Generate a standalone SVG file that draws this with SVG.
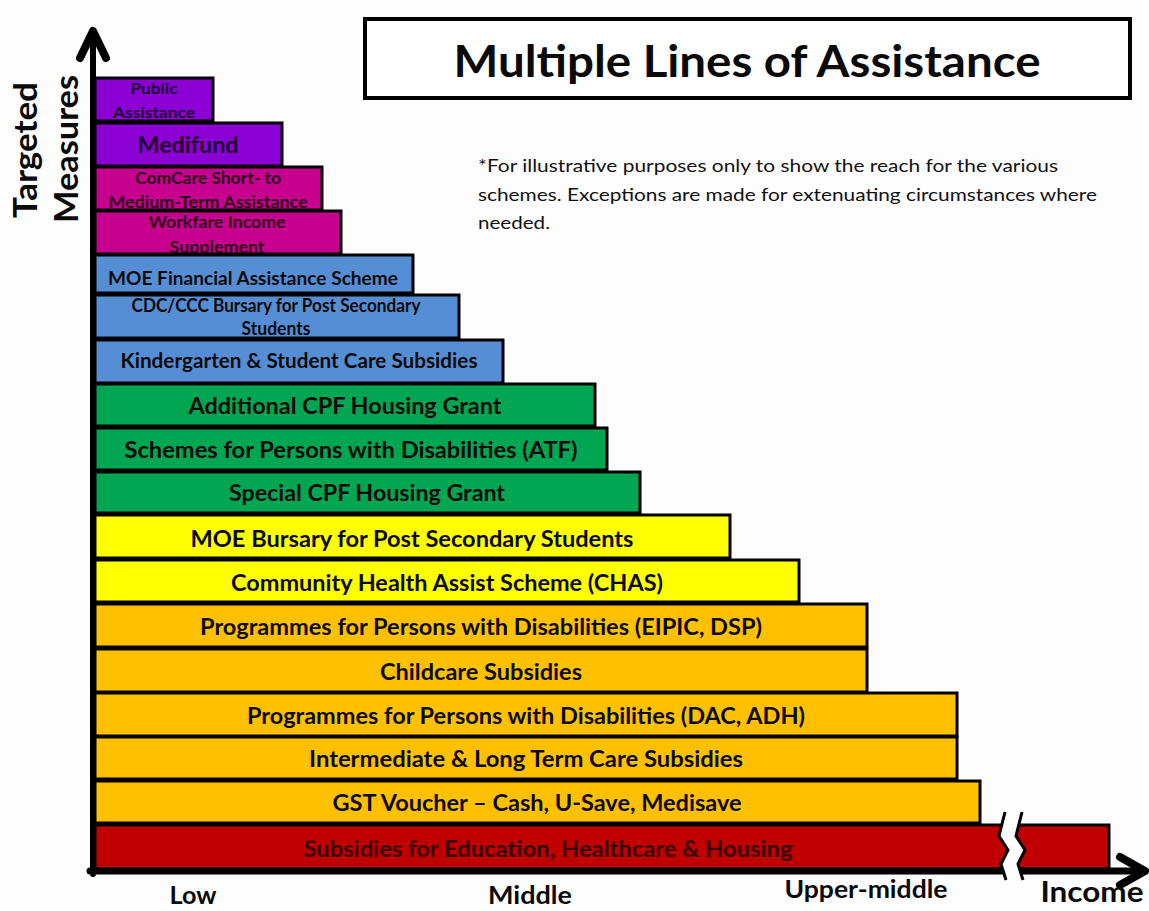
<svg xmlns="http://www.w3.org/2000/svg" width="1149" height="911" viewBox="0 0 1149 911">
<style>
.bar{stroke:#000;stroke-width:3}
.pu{fill:#8B00D2}.mg{fill:#C8008E}.bl{fill:#558ED5}.gr{fill:#00A651}.ye{fill:#FFFF00}.or{fill:#FFC000}.rd{fill:#C00000}
.lb{font-family:Lato,"Open Sans","Liberation Sans",sans-serif;font-weight:700;text-anchor:middle;fill:#0a0a0a}
.ax{stroke:#000;fill:none;stroke-linecap:round;stroke-linejoin:round}
.note{font-family:Lato,"Open Sans","Liberation Sans",sans-serif;font-size:18px;fill:#111}
</style>
<rect width="1149" height="911" fill="#fdfdfd"/>

<g id="title">
<rect x="365" y="19" width="765" height="79" fill="#fff" stroke="#000" stroke-width="4"/>
<text class="lb" x="747" y="77" font-size="44" textLength="587" lengthAdjust="spacingAndGlyphs">Multiple Lines of Assistance</text>
</g>

<g id="note">
<text class="note" x="478" y="172" textLength="580" lengthAdjust="spacingAndGlyphs">*For illustrative purposes only to show the reach for the various</text>
<text class="note" x="478" y="201" textLength="619" lengthAdjust="spacingAndGlyphs">schemes. Exceptions are made for extenuating circumstances where</text>
<text class="note" x="478" y="229" textLength="72" lengthAdjust="spacingAndGlyphs">needed.</text>
</g>

<g id="bar-public-assistance">
<rect class="bar pu" x="95" y="78" width="118" height="43"/>
<text class="lb" x="154" y="94" font-size="16" style="fill:#1e0030" textLength="47" lengthAdjust="spacingAndGlyphs">Public</text>
<text class="lb" x="154" y="118" font-size="16" style="fill:#1e0030" textLength="82" lengthAdjust="spacingAndGlyphs">Assistance</text>
</g>
<g id="bar-medifund">
<rect class="bar pu" x="95" y="123" width="187" height="43"/>
<text class="lb" x="188" y="153" font-size="23" style="fill:#1e0030" textLength="101" lengthAdjust="spacingAndGlyphs">Medifund</text>
</g>
<g id="bar-comcare">
<rect class="bar mg" x="95" y="167" width="227" height="43"/>
<text class="lb" x="208" y="184" font-size="17" style="fill:#2e0018" textLength="146" lengthAdjust="spacingAndGlyphs">ComCare Short- to</text>
<text class="lb" x="208" y="208" font-size="17" style="fill:#2e0018" textLength="199" lengthAdjust="spacingAndGlyphs">Medium-Term Assistance</text>
</g>
<g id="bar-workfare">
<rect class="bar mg" x="95" y="211" width="246" height="43"/>
<text class="lb" x="217" y="228" font-size="17" style="fill:#2e0018" textLength="137" lengthAdjust="spacingAndGlyphs">Workfare Income</text>
<text class="lb" x="217" y="253" font-size="17" style="fill:#2e0018" textLength="95" lengthAdjust="spacingAndGlyphs">Supplement</text>
</g>
<g id="bar-moe-fas">
<rect class="bar bl" x="95" y="255" width="318" height="38"/>
<text class="lb" x="253" y="285" font-size="19" textLength="290" lengthAdjust="spacingAndGlyphs">MOE Financial Assistance Scheme</text>
</g>
<g id="bar-cdc-ccc">
<rect class="bar bl" x="95" y="295" width="364" height="43"/>
<text class="lb" x="276" y="312" font-size="18" textLength="289" lengthAdjust="spacingAndGlyphs">CDC/CCC Bursary for Post Secondary</text>
<text class="lb" x="276" y="335" font-size="18" textLength="69" lengthAdjust="spacingAndGlyphs">Students</text>
</g>
<g id="bar-kindergarten">
<rect class="bar bl" x="95" y="340" width="408" height="43"/>
<text class="lb" x="299" y="368" font-size="21" textLength="357" lengthAdjust="spacingAndGlyphs">Kindergarten &amp; Student Care Subsidies</text>
</g>
<g id="bar-additional-cpf">
<rect class="bar gr" x="95" y="384" width="500" height="42"/>
<text class="lb" x="345" y="414" font-size="23" textLength="313" lengthAdjust="spacingAndGlyphs">Additional CPF Housing Grant</text>
</g>
<g id="bar-atf">
<rect class="bar gr" x="95" y="428" width="512" height="42"/>
<text class="lb" x="351" y="458" font-size="23" textLength="453" lengthAdjust="spacingAndGlyphs">Schemes for Persons with Disabilities (ATF)</text>
</g>
<g id="bar-special-cpf">
<rect class="bar gr" x="95" y="472" width="545" height="41"/>
<text class="lb" x="367" y="501" font-size="23" textLength="276" lengthAdjust="spacingAndGlyphs">Special CPF Housing Grant</text>
</g>
<g id="bar-moe-bursary">
<rect class="bar ye" x="95" y="515" width="635" height="43"/>
<text class="lb" x="412" y="547" font-size="23" textLength="443" lengthAdjust="spacingAndGlyphs">MOE Bursary for Post Secondary Students</text>
</g>
<g id="bar-chas">
<rect class="bar ye" x="95" y="560" width="704" height="42"/>
<text class="lb" x="447" y="591" font-size="23" textLength="432" lengthAdjust="spacingAndGlyphs">Community Health Assist Scheme (CHAS)</text>
</g>
<g id="bar-eipic">
<rect class="bar or" x="95" y="604" width="772" height="43"/>
<text class="lb" x="481" y="635" font-size="23" textLength="562" lengthAdjust="spacingAndGlyphs">Programmes for Persons with Disabilities (EIPIC, DSP)</text>
</g>
<g id="bar-childcare">
<rect class="bar or" x="95" y="649" width="772" height="43"/>
<text class="lb" x="481" y="680" font-size="23" textLength="202" lengthAdjust="spacingAndGlyphs">Childcare Subsidies</text>
</g>
<g id="bar-dac-adh">
<rect class="bar or" x="95" y="693" width="862" height="43"/>
<text class="lb" x="526" y="724" font-size="23" textLength="558" lengthAdjust="spacingAndGlyphs">Programmes for Persons with Disabilities (DAC, ADH)</text>
</g>
<g id="bar-iltc">
<rect class="bar or" x="95" y="737" width="862" height="42"/>
<text class="lb" x="526" y="767" font-size="23" textLength="434" lengthAdjust="spacingAndGlyphs">Intermediate &amp; Long Term Care Subsidies</text>
</g>
<g id="bar-gst">
<rect class="bar or" x="95" y="781" width="885" height="42"/>
<text class="lb" x="537" y="811" font-size="23" textLength="409" lengthAdjust="spacingAndGlyphs">GST Voucher – Cash, U-Save, Medisave</text>
</g>
<g id="bar-subsidies">
<rect class="bar rd" x="95" y="825" width="1014" height="44"/>
<text class="lb" x="548" y="857" font-size="23" style="fill:#3a0000" textLength="489" lengthAdjust="spacingAndGlyphs">Subsidies for Education, Healthcare &amp; Housing</text>
</g>

<g id="axes">
<line class="ax" x1="93" y1="36" x2="93" y2="874" stroke-width="6" stroke-linecap="butt"/>
<polyline class="ax" points="80,58 93,31 106,58" stroke-width="8"/>
<line class="ax" x1="90" y1="871" x2="1142" y2="871" stroke-width="7" stroke-linecap="butt"/>
<polyline class="ax" points="1120,857 1145,871 1120,885" stroke-width="8"/>
</g>

<g id="axis-break">
<polygon points="1005,812 999,836 1008,850 1001,864 1006,880 1023,880 1018,864 1025,850 1016,836 1022,812" fill="#fdfdfd"/>
<polyline points="1005,812 999,836 1008,850 1001,864 1006,880" fill="none" stroke="#000" stroke-width="3"/>
<polyline points="1022,812 1016,836 1025,850 1018,864 1023,880" fill="none" stroke="#000" stroke-width="3"/>
</g>

<g id="axis-labels">
<text class="lb" transform="translate(37,150) rotate(-90)" font-size="32" textLength="136" lengthAdjust="spacingAndGlyphs">Targeted</text>
<text class="lb" transform="translate(78,149) rotate(-90)" font-size="32" textLength="148" lengthAdjust="spacingAndGlyphs">Measures</text>
<text class="lb" x="193" y="904" font-size="25" textLength="47" lengthAdjust="spacingAndGlyphs">Low</text>
<text class="lb" x="530" y="904" font-size="25" textLength="84" lengthAdjust="spacingAndGlyphs">Middle</text>
<text class="lb" x="866" y="898" font-size="25" textLength="163" lengthAdjust="spacingAndGlyphs">Upper-middle</text>
<text class="lb" x="1092" y="902" font-size="28" textLength="103" lengthAdjust="spacingAndGlyphs">Income</text>
</g>
</svg>
